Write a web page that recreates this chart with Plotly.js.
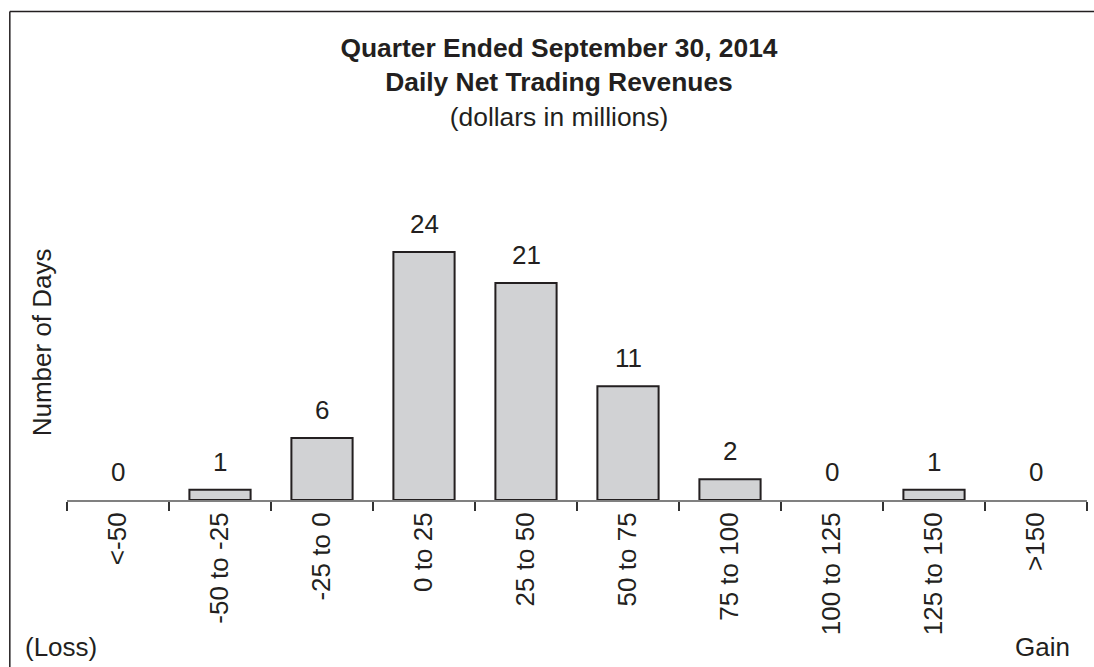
<!DOCTYPE html>
<html>
<head>
<meta charset="utf-8">
<script src="https://cdn.plot.ly/plotly-3.0.1.min.js"></script>
<style>html,body{margin:0;padding:0;background:#fff;}#chart{width:1094px;height:667px;}</style>
</head>
<body>
<div id="chart"></div>
<script>
// Data
var categories = ["<-50", "-50 to -25", "-25 to 0", "0 to 25", "25 to 50", "50 to 75", "75 to 100", "100 to 125", "125 to 150", ">150"];
var days = [0, 1, 6, 24, 21, 11, 2, 0, 1, 0];
var titleLines = ["Quarter Ended September 30, 2014", "Daily Net Trading Revenues", "(dollars in millions)"];
var yTitle = "Number of Days";
var lossLabel = "(Loss)";
var gainLabel = "Gain";

var FONT = "Liberation Sans, Arial, Helvetica, sans-serif";
var INK = "#231f20";

// plot geometry (pixels)
var W = 1094, H = 667;
var L = 66.7, R = 1087, T = 190, B = 500;
var pw = R - L, ph = B - T;
function px2paperX(px) { return (px - L) / pw; }
function px2paperY(py) { return (B - py) / ph; }

var annotations = categories.map(function (c, i) {
  return {
    x: c, y: days[i], xref: "x", yref: "y",
    text: String(days[i]), showarrow: false,
    yanchor: "middle", yshift: 28,
    font: {family: FONT, size: 26, color: INK}
  };
});
annotations.push({
  xref: "paper", yref: "paper", x: px2paperX(42), y: px2paperY(342),
  text: yTitle, textangle: -90, showarrow: false,
  xanchor: "center", yanchor: "middle",
  font: {family: FONT, size: 26, color: INK}
});
annotations.push({
  xref: "paper", yref: "paper", x: px2paperX(23), y: px2paperY(647),
  text: lossLabel, showarrow: false, xanchor: "left", yanchor: "middle",
  font: {family: FONT, size: 26, color: INK}
});
annotations.push({
  xref: "paper", yref: "paper", x: px2paperX(1072), y: px2paperY(647),
  text: gainLabel, showarrow: false, xanchor: "right", yanchor: "middle",
  font: {family: FONT, size: 26, color: INK}
});

var trace = {
  type: "bar",
  x: categories,
  y: days,
  width: 0.6,
  marker: {
    color: "#d1d2d4",
    line: {color: INK, width: days.map(function (d) { return d > 0 ? 2 : 0; })}
  },
  hoverinfo: "x+y"
};

var layout = {
  width: W, height: H,
  margin: {l: L, r: W - R, t: T, b: H - B},
  paper_bgcolor: "#fff", plot_bgcolor: "#fff",
  showlegend: false,
  title: {
    text: "<b>" + titleLines[0] + "</b><br><b>" + titleLines[1] + "</b><br>" + titleLines[2],
    font: {family: FONT, size: 26.4, color: INK},
    x: 559 / W, xref: "container", xanchor: "center",
    y: 1 - 57 / H, yref: "container", yanchor: "top"
  },
  xaxis: {
    type: "category",
    range: [-0.5, 9.5],
    showline: true, linecolor: "#808080", linewidth: 2,
    ticks: "outside", tickson: "boundaries", ticklen: 9, tickwidth: 1.5, tickcolor: "#333",
    tickangle: -90,
    tickfont: {family: FONT, size: 26, color: INK},
    showgrid: false, zeroline: false, fixedrange: true
  },
  yaxis: {
    range: [0, 30],
    showline: false, showticklabels: false, ticks: "",
    showgrid: false, zeroline: false, fixedrange: true
  },
  annotations: annotations,
  shapes: [
    {type: "line", xref: "paper", yref: "paper",
     x0: px2paperX(9.5), x1: px2paperX(W), y0: px2paperY(11.5), y1: px2paperY(11.5),
     line: {color: INK, width: 1.5}, layer: "below"},
    {type: "line", xref: "paper", yref: "paper",
     x0: px2paperX(9.5), x1: px2paperX(9.5), y0: px2paperY(11.5), y1: px2paperY(H),
     line: {color: INK, width: 1.5}, layer: "below"}
  ]
};

Plotly.newPlot("chart", [trace], layout, {displayModeBar: false, staticPlot: true});
</script>
</body>
</html>
